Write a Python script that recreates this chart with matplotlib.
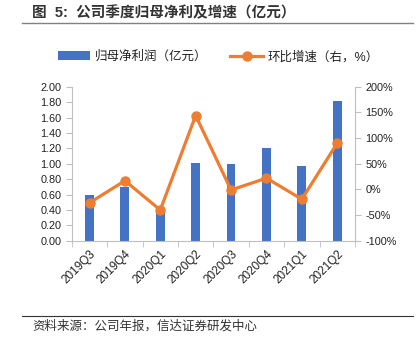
import matplotlib
matplotlib.use('Agg')
from matplotlib import pyplot as plt
from matplotlib.lines import Line2D
import numpy as np

plt.rcParams['font.family'] = ['Liberation Sans', 'Noto Sans CJK SC', 'DejaVu Sans']
plt.rcParams['axes.unicode_minus'] = False

# 数据
quarters = ['2019Q3', '2019Q4', '2020Q1', '2020Q2', '2020Q3', '2020Q4', '2021Q1', '2021Q2']
profit = [0.59, 0.70, 0.37, 1.01, 1.00, 1.21, 0.97, 1.82]          # 亿元
qoq_growth = [-26, 17, -40, 144, -1, 22, -19, 90]                   # %

bar_color = '#4472C4'
line_color = '#ED7D31'
axis_color = '#BFBFBF'
text_color = '#222222'

fig = plt.figure(figsize=(4.2, 3.47), dpi=100)
ax = fig.add_axes([0.171, 0.306, 0.674, 0.444])
ax2 = ax.twinx()

x = np.arange(len(quarters))
ax.bar(x, profit, width=0.25, color=bar_color, label='归母净利润（亿元）', zorder=2)
ax2.plot(x, qoq_growth, color=line_color, linewidth=2.3, marker='o', markersize=6.5,
         label='环比增速（右，%）', zorder=3)

ax.set_xlim(-0.5, len(quarters) - 0.5)
ax.set_ylim(0, 2.0)
ax.set_yticks(np.arange(0, 2.01, 0.2))
ax.set_yticklabels(['%.2f' % v for v in np.arange(0, 2.01, 0.2)])
ax2.set_ylim(-100, 200)
ax2.set_yticks(np.arange(-100, 201, 50))
ax2.set_yticklabels(['%d%%' % v for v in np.arange(-100, 201, 50)])

ax.set_xticks(x)
ax.set_xticklabels(quarters, rotation=45, ha='right', rotation_mode='anchor')
ax.set_xticks(np.arange(-0.5, len(quarters), 1), minor=True)
ax.tick_params(axis='x', which='major', length=0, labelsize=8.5, colors=text_color, pad=5)
ax.tick_params(axis='x', which='minor', length=4, color=axis_color)
ax.tick_params(axis='y', length=4, color=axis_color, labelsize=7.8, labelcolor=text_color)
ax2.tick_params(axis='y', length=4, color=axis_color, labelsize=7.8, labelcolor=text_color)

for a in (ax, ax2):
    a.spines['top'].set_visible(False)
    for s in ('left', 'right', 'bottom'):
        a.spines[s].set_color(axis_color)
ax.spines['right'].set_visible(False)
ax2.spines['left'].set_visible(False)
ax2.spines['bottom'].set_visible(False)

# 图例
h1, l1 = ax.get_legend_handles_labels()
h2, l2 = ax2.get_legend_handles_labels()
fig.legend(h1 + h2, l1 + l2, loc='center', bbox_to_anchor=(0.52, 0.836), ncol=2,
           frameon=False, fontsize=9, handlelength=2.6, columnspacing=1.8,
           handletextpad=0.4, labelcolor=text_color)

# 标题与来源
fig.text(0.076, 0.962, '图  5:  公司季度归母净利及增速（亿元）', fontsize=10.5,
         fontweight='bold', color='#333333', va='center', ha='left')
fig.add_artist(Line2D([0.052, 0.983], [0.934, 0.934], transform=fig.transFigure,
                      color='#808080', linewidth=1))
fig.add_artist(Line2D([0.052, 0.983], [0.089, 0.089], transform=fig.transFigure,
                      color='#333333', linewidth=0.8))
fig.text(0.076, 0.06, '资料来源：公司年报，信达证券研发中心', fontsize=9,
         color='#333333', va='center', ha='left')

fig.savefig('out.png', dpi=100)
